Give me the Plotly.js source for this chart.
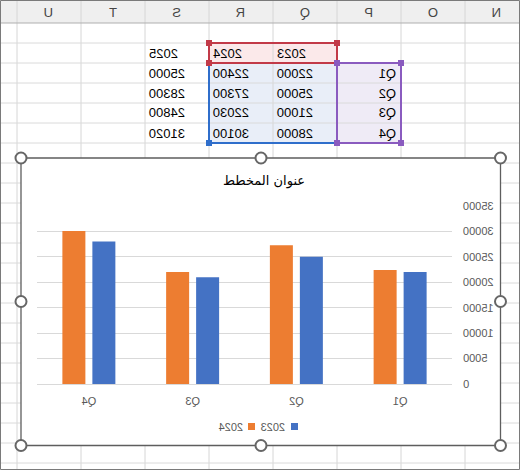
<!DOCTYPE html>
<html>
<head>
<meta charset="utf-8">
<script src="https://cdn.plot.ly/plotly-3.0.1.min.js"></script>
<style>
  html, body { margin: 0; padding: 0; background: #ffffff; overflow: hidden; }
  #chart { width: 520px; height: 470px; transform: scaleX(-1); transform-origin: center; }
  #chart .gtitle { transform-box: fill-box; transform-origin: center; transform: scaleX(-1); }
</style>
</head>
<body>
<div id="chart"></div>
<script>
// ---- data ----
const quarters = ['Q1', 'Q2', 'Q3', 'Q4'];
const yearLabels = ['2023', '2024', '2025'];
const s2023 = [22000, 25000, 21000, 28000];
const s2024 = [22400, 27300, 22030, 30100];
const s2025 = [25000, 28300, 24800, 31020];
const columnLetters = ['N', 'O', 'P', 'Q', 'R', 'S', 'T', 'U'];
const yTicks = [0, 5000, 10000, 15000, 20000, 25000, 30000, 35000];
const chartTitle = 'عنوان المخطط';

// ---- geometry helpers (reference pixel coords; figure is mirrored by CSS) ----
const W = 520, H = 470;
const X = xr => (W - xr) / W;
const Y = yr => 1 - yr / H;

const shapes = [];
const annotations = [];
function rect(x0, y0, x1, y1, style) {
  shapes.push(Object.assign({type: 'rect', xref: 'paper', yref: 'paper', layer: 'below',
    x0: X(x0), x1: X(x1), y0: Y(y0), y1: Y(y1)}, style));
}
function line(x0, y0, x1, y1, color, width) {
  shapes.push({type: 'line', xref: 'paper', yref: 'paper', layer: 'below',
    x0: X(x0), x1: X(x1), y0: Y(y0), y1: Y(y1), line: {color: color, width: width}});
}
function circle(cx, cy, r) {
  shapes.push({type: 'circle', xref: 'paper', yref: 'paper', layer: 'below',
    x0: X(cx - r), x1: X(cx + r), y0: Y(cy + r), y1: Y(cy - r),
    fillcolor: '#ffffff', line: {color: '#666666', width: 2}});
}
function handle(cx, cy, color) {
  rect(cx - 3, cy - 3, cx + 3, cy + 3, {fillcolor: color, line: {width: 0}});
}
function text(str, x, y, anchor, size, color) {
  annotations.push({text: str, xref: 'paper', yref: 'paper', x: X(x), y: Y(y),
    xanchor: anchor, yanchor: 'middle', showarrow: false,
    font: {family: 'Liberation Sans, Arial, sans-serif', size: size, color: color}});
}

// ---- spreadsheet background ----
rect(0, 0, 520, 23, {fillcolor: '#efefef', line: {width: 0}});
rect(209, 43, 337, 63, {fillcolor: '#fbe9ea', line: {width: 0}});
rect(209, 63, 337, 143, {fillcolor: '#e9eef8', line: {width: 0}});
rect(337, 63, 401, 143, {fillcolor: '#efebf6', line: {width: 0}});
for (let k = 0; k < 8; k++) {
  const gx = 17 + 64 * k;
  line(gx, 0, gx, 470, '#d6d6d6', 1);
}
for (let gy = 43; gy <= 463; gy += 20) line(0, gy, 520, gy, '#dadada', 1);
line(0, 23, 520, 23, '#b0b0b0', 1.2);
columnLetters.forEach((c, i) => text(c, 497 - 64 * i, 12, 'center', 13, '#444444'));

// table texts
const colLeft = [275, 211, 147];
const seriesAll = [s2023, s2024, s2025];
yearLabels.forEach((yl, j) => {
  text(yl, colLeft[j], 53, 'right', 13, '#000000');
  seriesAll[j].forEach((v, i) => text(String(v), colLeft[j], 73 + 20 * i, 'right', 13, '#000000'));
});
quarters.forEach((q, i) => text(q, 398, 73 + 20 * i, 'left', 13, '#000000'));

// selection borders
const RED = '#c23a48', BLUE = '#2f6ecb', PURPLE = '#8a5bbf';
line(209, 63, 209, 143, BLUE, 2);
line(209, 143, 337, 143, BLUE, 2);
line(337, 63, 337, 143, PURPLE, 2);
line(337, 63, 401, 63, PURPLE, 2);
line(401, 63, 401, 143, PURPLE, 2);
line(337, 143, 401, 143, PURPLE, 2);
line(209, 43, 337, 43, RED, 2);
line(209, 63, 337, 63, RED, 2);
line(209, 43, 209, 63, RED, 2);
line(337, 43, 337, 63, RED, 2);
handle(209, 43, RED); handle(337, 43, RED); handle(209, 63, RED);
handle(337, 63, PURPLE); handle(401, 63, PURPLE); handle(337, 143, PURPLE); handle(401, 143, PURPLE);
handle(209, 143, BLUE);

// ---- chart frame ----
rect(21, 158, 500.5, 445.5, {fillcolor: '#ffffff', line: {color: '#5e5e5e', width: 1.3}});
[21, 261, 500.5].forEach(cx => [158, 301.5, 445.5].forEach(cy => {
  if (cx === 261 && cy === 301.5) return;
  circle(cx, cy, 5.5);
}));

// outer page border
rect(0.5, 0.5, 519.5, 469.5, {fillcolor: 'rgba(0,0,0,0)', line: {color: '#7a7a7a', width: 1}});

// ---- legend ----
rect(291, 423, 298, 430, {fillcolor: '#4472C4', line: {width: 0}});
rect(248, 423, 255, 430, {fillcolor: '#ED7D31', line: {width: 0}});
text(yearLabels[0], 287, 426.5, 'left', 11, '#595959');
text(yearLabels[1], 245, 426.5, 'left', 11, '#595959');

// ---- traces ----
const traces = [
  {type: 'bar', name: yearLabels[0], x: quarters, y: s2023, marker: {color: '#4472C4'}, hoverinfo: 'skip'},
  {type: 'bar', name: yearLabels[1], x: quarters, y: s2024, marker: {color: '#ED7D31'}, hoverinfo: 'skip'}
];

const layout = {
  width: W, height: H, autosize: false,
  margin: {l: 0, r: 0, t: 0, b: 0, pad: 0},
  paper_bgcolor: '#ffffff', plot_bgcolor: 'rgba(0,0,0,0)',
  showlegend: false,
  barmode: 'group', bargap: 0.422, bargroupgap: 0.233,
  font: {family: 'Liberation Sans, Arial, sans-serif', size: 11, color: '#595959'},
  title: {text: chartTitle, x: X(264), xref: 'paper', xanchor: 'center',
    y: Y(180), yref: 'paper', yanchor: 'middle',
    font: {family: 'DejaVu Sans, sans-serif', size: 13, color: '#000000'}},
  xaxis: {domain: [X(452), X(37)], type: 'category', categoryorder: 'array', categoryarray: quarters,
    showgrid: false, showline: true, linecolor: '#d9d9d9', linewidth: 1, ticks: '',
    ticklabelstandoff: 7,
    tickfont: {size: 11, color: '#595959'}, automargin: false, fixedrange: true},
  yaxis: {domain: [Y(384), Y(206)], range: [0, 35000], tickvals: yTicks, ticktext: yTicks.map(String),
    showgrid: true, gridcolor: '#d9d9d9', gridwidth: 1, zeroline: false, showline: false, ticks: '',
    ticklabelstandoff: 10, tickfont: {size: 11, color: '#595959'}, automargin: false, fixedrange: true},
  shapes: shapes,
  annotations: annotations
};

Plotly.newPlot('chart', traces, layout, {staticPlot: true, displayModeBar: false});
</script>
</body>
</html>
